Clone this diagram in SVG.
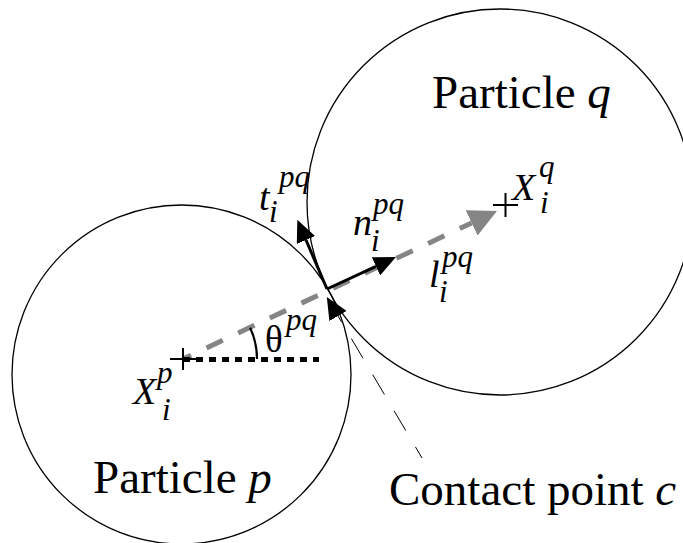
<svg xmlns="http://www.w3.org/2000/svg" width="683" height="543" viewBox="0 0 683 543">
<style>
.circ{fill:none;stroke:#000;stroke-width:1.3}
.lbl{font-family:"Liberation Serif","Times New Roman",serif;font-size:47px;fill:#000}
.m{font-family:"Liberation Serif","Times New Roman",serif;font-style:italic;font-size:38px;fill:#000}
.s{font-family:"Liberation Serif","Times New Roman",serif;font-style:italic;font-size:31px;fill:#000}
.g{font-family:"Liberation Serif","Times New Roman",serif;font-size:37px;fill:#000}
.plus{stroke:#000;stroke-width:2;fill:none}
.vec{stroke:#000;stroke-width:3;fill:none}
</style>
<defs>
<marker id="ahb" viewBox="0 0 22 20" refX="0" refY="10" markerUnits="userSpaceOnUse" markerWidth="22" markerHeight="20" orient="auto">
<path d="M0,0 L22,10 L0,20 z" fill="#000"/>
</marker>
<marker id="ahg" viewBox="0 0 28 28" refX="0" refY="14" markerUnits="userSpaceOnUse" markerWidth="28" markerHeight="28" orient="auto">
<path d="M0,0 L28,14 L0,28 z" fill="#858585"/>
</marker>
</defs>
<g id="particle-p">
<circle class="circ" cx="181.5" cy="374.5" r="169.5"/>
<text class="lbl" x="93" y="493">Particle <tspan font-style="italic">p</tspan></text>
</g>
<g id="particle-q">
<circle class="circ" cx="500" cy="202" r="193"/>
<text class="lbl" x="432" y="108">Particle <tspan font-style="italic">q</tspan></text>
</g>
<g id="connectors">
<path d="M183,359 L471.6,222.9" stroke="#858585" stroke-width="5" fill="none" stroke-dasharray="18 17" stroke-dashoffset="9" marker-end="url(#ahg)"/>
<path d="M183,359.5 L319,359.5" stroke="#000" stroke-width="5" fill="none" stroke-dasharray="7 6"/>
<path d="M250.1,327.7 A74,74 0 0 1 257,359" stroke="#000" stroke-width="2.2" fill="none"/>
<path class="vec" d="M327,289 L376,266.3" marker-end="url(#ahb)"/>
<path class="vec" d="M327,289 L306,240" marker-end="url(#ahb)"/>
<path d="M422,458 L338,316" stroke="#000" stroke-width="1" fill="none" stroke-dasharray="12.8 19 23 19 23 19 23 19 23 60" marker-end="url(#ahb)"/>
</g>
<g id="center-p">
<path class="plus" d="M170,359 H196 M183,348 V370"/>
<text class="m" x="133" y="404">X</text>
<text class="s" x="157" y="383">p</text>
<text class="s" x="162" y="420">i</text>
</g>
<g id="center-q">
<path class="plus" d="M493,205 H518 M505.5,193 V217"/>
<text class="m" x="512" y="200">X</text>
<text class="s" x="539" y="177">q</text>
<text class="s" x="540" y="213">i</text>
</g>
<g id="label-t">
<text class="m" x="259" y="210">t</text>
<text class="s" x="279" y="187">pq</text>
<text class="s" x="269" y="222">i</text>
</g>
<g id="label-n">
<text class="m" x="353" y="235">n</text>
<text class="s" x="373" y="214">pq</text>
<text class="s" x="371" y="251">i</text>
</g>
<g id="label-l">
<text class="m" x="429" y="287">l</text>
<text class="s" x="442" y="267">pq</text>
<text class="s" x="439" y="302">i</text>
</g>
<g id="label-theta">
<text class="g" x="265" y="352">θ</text>
<text class="s" x="286" y="330">pq</text>
</g>
<g id="contact-point">
<text class="lbl" x="389" y="505">Contact point <tspan font-style="italic">c</tspan></text>
</g>
</svg>
